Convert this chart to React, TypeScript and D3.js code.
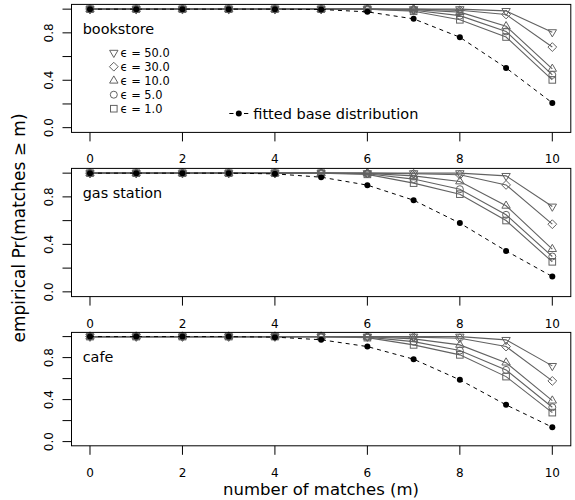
import React from "react";
import * as d3 from "d3";

const matches = [0, 1, 2, 3, 4, 5, 6, 7, 8, 9, 10];
const xTicks = [0, 2, 4, 6, 8, 10];
const yTicks = [0, 0.2, 0.4, 0.6, 0.8, 1.0];
const yTickLabels = ["0.0", "", "0.4", "", "0.8", ""];
const panelNames = ["bookstore", "gas station", "cafe"];
const epsLabels = ["ϵ = 50.0", "ϵ = 30.0", "ϵ = 10.0", "ϵ = 5.0", "ϵ = 1.0"];
const epsShapes = ["tridown", "diamond", "triup", "circle", "square"];

const bookstoreFitted = [1, 1, 1, 1, 1, 0.997, 0.977, 0.918, 0.763, 0.504, 0.209];
const bookstoreEps50 = [1, 1, 1, 1, 1, 1, 1, 1, 1, 0.985, 0.806];
const bookstoreEps30 = [1, 1, 1, 1, 1, 1, 1, 1, 0.99, 0.955, 0.68];
const bookstoreEps10 = [1, 1, 1, 1, 1, 1, 1, 0.995, 0.975, 0.855, 0.496];
const bookstoreEps5 = [1, 1, 1, 1, 1, 1, 1, 0.99, 0.945, 0.812, 0.445];
const bookstoreEps1 = [1, 1, 1, 1, 1, 1, 1, 0.982, 0.91, 0.765, 0.403];

const gasFitted = [1, 1, 1, 1, 0.994, 0.966, 0.899, 0.772, 0.579, 0.345, 0.129];
const gasEps50 = [1, 1, 1, 1, 1, 1, 1, 1, 1, 0.977, 0.719];
const gasEps30 = [1, 1, 1, 1, 1, 1, 1, 0.995, 0.986, 0.901, 0.57];
const gasEps10 = [1, 1, 1, 1, 1, 1, 0.998, 0.977, 0.93, 0.725, 0.36];
const gasEps5 = [1, 1, 1, 1, 1, 1, 0.995, 0.95, 0.865, 0.649, 0.298];
const gasEps1 = [1, 1, 1, 1, 1, 1, 0.99, 0.916, 0.823, 0.601, 0.253];

const cafeFitted = [1, 1, 1, 1, 0.995, 0.97, 0.905, 0.785, 0.588, 0.35, 0.137];
const cafeEps50 = [1, 1, 1, 1, 1, 1, 1, 1, 1, 0.969, 0.721];
const cafeEps30 = [1, 1, 1, 1, 1, 1, 1, 0.995, 0.985, 0.905, 0.578];
const cafeEps10 = [1, 1, 1, 1, 1, 1, 0.998, 0.978, 0.921, 0.752, 0.39];
const cafeEps5 = [1, 1, 1, 1, 1, 1, 0.995, 0.952, 0.867, 0.683, 0.327];
const cafeEps1 = [1, 1, 1, 1, 1, 1, 0.99, 0.921, 0.826, 0.619, 0.276];

const panelsFitted = [bookstoreFitted, gasFitted, cafeFitted];
const panelsSeries = [
  [bookstoreEps50, bookstoreEps30, bookstoreEps10, bookstoreEps5, bookstoreEps1],
  [gasEps50, gasEps30, gasEps10, gasEps5, gasEps1],
  [cafeEps50, cafeEps30, cafeEps10, cafeEps5, cafeEps1],
];

// layout (pixel boxes of each panel)
const boxLeft = 71.5;
const boxRight = 570.8;
const boxes = [
  { top: 4.4, bottom: 132.4 },
  { top: 168.4, bottom: 296.6 },
  { top: 332.4, bottom: 445.8 },
];
const FONT = "DejaVu Sans, sans-serif";
const GRAY = "#626262";

function Marker({ shape, x, y, color }: { shape: string; x: number; y: number; color: string }) {
  const common = { fill: "none", stroke: color, strokeWidth: 1 };
  if (shape === "circle") return <circle cx={x} cy={y} r={3.5} {...common} />;
  if (shape === "square") return <rect x={x - 3.3} y={y - 3.3} width={6.6} height={6.6} {...common} />;
  if (shape === "diamond")
    return <path d={`M${x},${y - 4.4}L${x + 4.4},${y}L${x},${y + 4.4}L${x - 4.4},${y}Z`} {...common} />;
  if (shape === "triup")
    return <path d={`M${x},${y - 4.8}L${x + 4.2},${y + 2.4}L${x - 4.2},${y + 2.4}Z`} {...common} />;
  return <path d={`M${x},${y + 4.8}L${x + 4.2},${y - 2.4}L${x - 4.2},${y - 2.4}Z`} {...common} />;
}

export default function App() {
  const x = d3.scaleLinear().domain([-0.4, 10.4]).range([boxLeft, boxRight]);

  return (
    <svg
      width={575}
      height={500}
      style={{ position: "absolute", left: 0, top: 0, background: "#fff" }}
      fontFamily={FONT}
    >
      <rect x={0} y={0} width={575} height={500} fill="#fff" />
      {boxes.map((b, pi) => {
        const y = d3.scaleLinear().domain([-0.04, 1.04]).range([b.bottom, b.top]);
        const line = d3
          .line<number>()
          .x((_, i) => x(matches[i]))
          .y((v) => y(v));
        const fitted = panelsFitted[pi];
        return (
          <g key={pi}>
            {yTicks.map((t, i) => (
              <g key={i}>
                <line x1={boxLeft - 9} x2={boxLeft} y1={y(t)} y2={y(t)} stroke="#000" />
                {yTickLabels[i] && (
                  <text
                    transform={`translate(52.5,${y(t)}) rotate(-90)`}
                    textAnchor="middle"
                    fontSize={12}
                  >
                    {yTickLabels[i]}
                  </text>
                )}
              </g>
            ))}
            {xTicks.map((t) => (
              <g key={t}>
                <line x1={x(t)} x2={x(t)} y1={b.bottom} y2={b.bottom + 9} stroke="#000" />
                <text x={x(t)} y={b.bottom + 31} textAnchor="middle" fontSize={12}>
                  {t}
                </text>
              </g>
            ))}
            {panelsSeries[pi].map((s, si) => (
              <g key={si}>
                <path d={line(s) || ""} fill="none" stroke={GRAY} strokeWidth={1.1} />
                {s.map((v, i) => (
                  <Marker key={i} shape={epsShapes[si]} x={x(matches[i])} y={y(v)} color={GRAY} />
                ))}
              </g>
            ))}
            <path d={line(fitted) || ""} fill="none" stroke="#000" strokeWidth={1} strokeDasharray="4,4" />
            {fitted.map((v, i) => (
              <circle key={i} cx={x(matches[i])} cy={y(v)} r={3} fill="#000" />
            ))}
            <rect
              x={boxLeft}
              y={b.top}
              width={boxRight - boxLeft}
              height={b.bottom - b.top}
              fill="none"
              stroke="#000"
              strokeWidth={1}
            />
            <text x={82.7} y={b.top + 30} fontSize={14.4}>
              {panelNames[pi]}
            </text>
          </g>
        );
      })}
      {epsLabels.map((lab, i) => (
        <g key={lab}>
          <Marker shape={epsShapes[i]} x={113.8} y={52.7 + i * 14} color={GRAY} />
          <text x={120.5} y={52.7 + i * 14 + 4.2} fontSize={11.4}>
            {lab}
          </text>
        </g>
      ))}
      <line x1={229.3} x2={233.5} y1={113.5} y2={113.5} stroke="#000" />
      <line x1={244} x2={248.3} y1={113.5} y2={113.5} stroke="#000" />
      <circle cx={238.8} cy={113.5} r={3} fill="#000" />
      <text x={253.3} y={118.5} fontSize={14.5}>
        fitted base distribution
      </text>
      <text x={321} y={495} textAnchor="middle" fontSize={16.5}>
        number of matches (m)
      </text>
      <text transform="translate(25,228) rotate(-90)" textAnchor="middle" fontSize={17}>
        empirical Pr(matches ≥ m)
      </text>
    </svg>
  );
}
